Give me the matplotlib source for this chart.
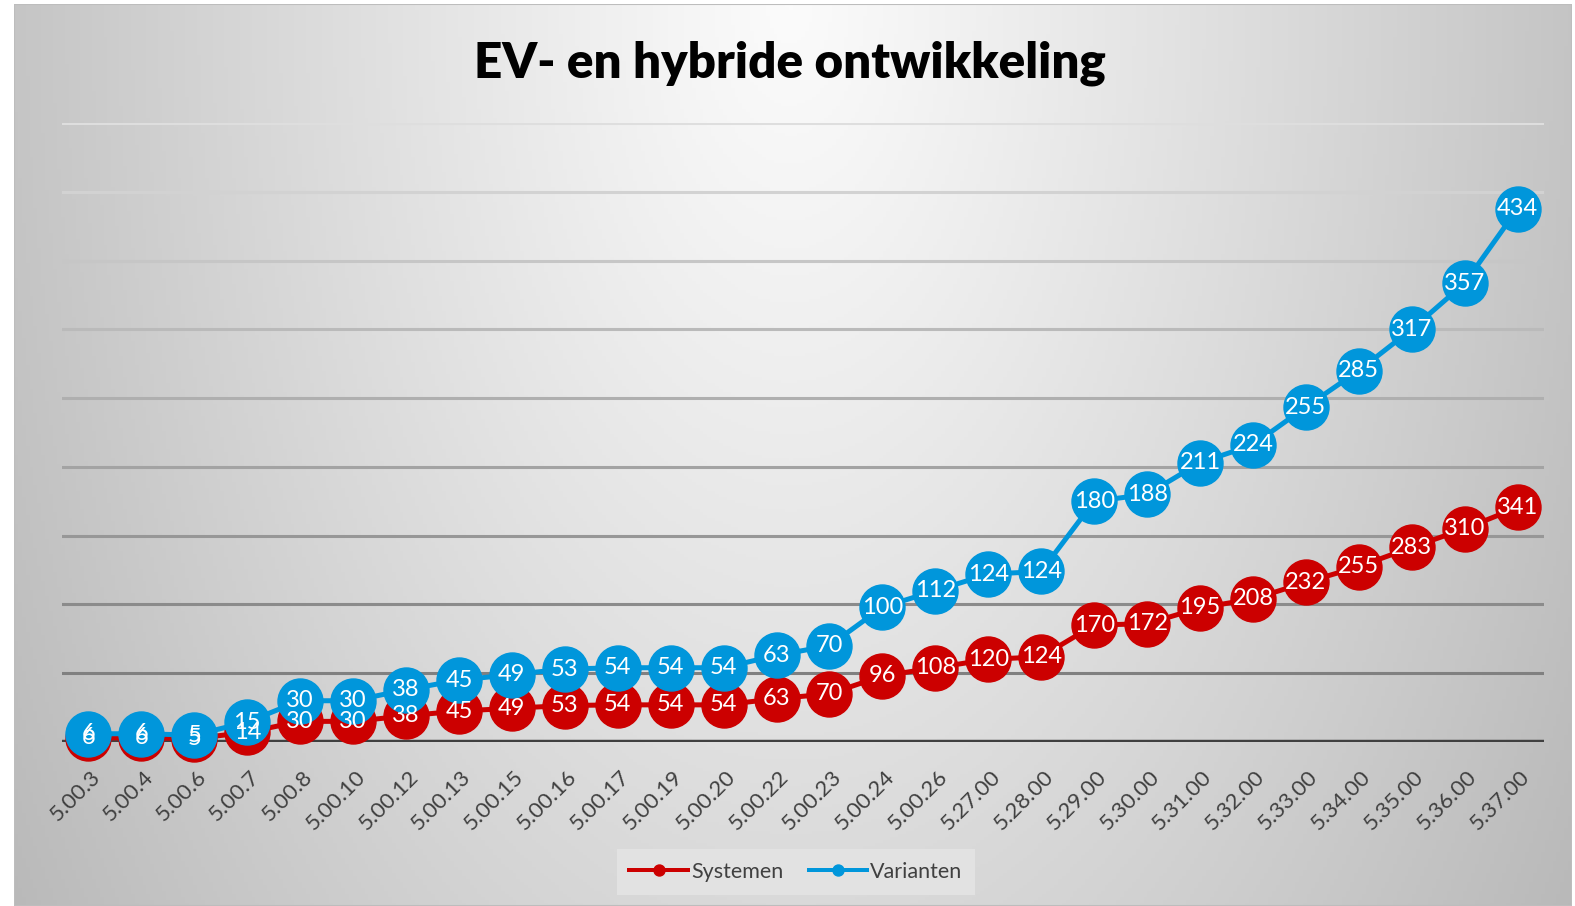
import numpy as np
import matplotlib
matplotlib.use("Agg")
import matplotlib.pyplot as plt
from matplotlib.lines import Line2D
from matplotlib.patches import Rectangle

# ---- data ----
categories = ["5.00.3", "5.00.4", "5.00.6", "5.00.7", "5.00.8", "5.00.10", "5.00.12",
              "5.00.13", "5.00.15", "5.00.16", "5.00.17", "5.00.19", "5.00.20", "5.00.22",
              "5.00.23", "5.00.24", "5.00.26", "5.27.00", "5.28.00", "5.29.00", "5.30.00",
              "5.31.00", "5.32.00", "5.33.00", "5.34.00", "5.35.00", "5.36.00", "5.37.00"]
systemen = [6, 6, 5, 14, 30, 30, 38, 45, 49, 53, 54, 54, 54, 63, 70, 96, 108, 120, 124,
            170, 172, 195, 208, 232, 255, 283, 310, 341]
varianten = [6, 6, 5, 15, 30, 30, 38, 45, 49, 53, 54, 54, 54, 63, 70, 100, 112, 124, 124,
             180, 188, 211, 224, 255, 285, 317, 357, 434]
series_names = ["Systemen", "Varianten"]
y_max = 900
y_step = 100

RED = "#CC0000"
BLUE = "#0096DB"
FONT = "Lato"

W, H = 1575, 906
fig = plt.figure(figsize=(W / 100, H / 100), dpi=100)
fig.patch.set_facecolor("white")

# ---- background gradient (chart area) ----
x0, x1, ytop = 14, 1572, 4
bg = fig.add_axes([x0 / W, 0, (x1 - x0) / W, (H - ytop) / H])
bg.set_axis_off()
gx = np.linspace(x0, x1, 400)
gy = np.linspace(ytop, H, 300)
XX, YY = np.meshgrid(gx, gy)
cx, cy = 790, 0
d = np.sqrt(((XX - cx) / 787.0) ** 2 + ((YY - cy) / 1394.0) ** 2)
val = np.clip(0.985 - 0.215 * d ** 1.1, 0, 1)
img = np.dstack([val, val, val])
bg.imshow(img, aspect="auto", extent=[0, 1, 0, 1], origin="upper")
bg.set_xlim(0, 1)
bg.set_ylim(0, 1)
bg.add_patch(Rectangle((0, 0), 1, 1, transform=bg.transAxes, fill=False,
                       edgecolor="#bdbdbd", lw=1.5))

# ---- main axes ----
L, R, T, B = 62, 1544, 123, 742
ax = fig.add_axes([L / W, (H - B) / H, (R - L) / W, (B - T) / H])
ax.patch.set_alpha(0)
n = len(categories)
x = np.arange(n)
ax.set_xlim(-0.5, n - 0.5)
ax.set_ylim(0, y_max)
for s in ax.spines.values():
    s.set_visible(False)
ax.set_xticks([])
ax.set_yticks([])

levels = np.arange(y_step, y_max + 1, y_step)
for lv in levels:
    t = (lv - y_step) / (y_max - y_step)
    c = 0.50 + t * (0.87 - 0.50)
    ax.axhline(lv, color=(c, c, c), lw=2.2, zorder=1)
ax.axhline(0, color="#404040", lw=3.2, zorder=2)

sys_arr = np.array(systemen)
var_top = sys_arr + np.array(varianten)

ms = 45 * 0.72
lw = 5 * 0.72
ax.plot(x, sys_arr, color=RED, lw=lw, marker="o", ms=ms, mec=RED, mfc=RED, zorder=3,
        clip_on=False)
ax.plot(x, var_top, color=BLUE, lw=lw, marker="o", ms=ms, mec=BLUE, mfc=BLUE, zorder=4,
        clip_on=False)

for i in range(n):
    ax.text(x[i], sys_arr[i], str(systemen[i]), color="white", fontsize=17,
            family=FONT, ha="center", va="center", zorder=6)
    ax.text(x[i], var_top[i], str(varianten[i]), color="white", fontsize=17,
            family=FONT, ha="center", va="center", zorder=7)

for i, lab in enumerate(categories):
    ax.annotate(lab, xy=(x[i], 0), xytext=(9, -32), textcoords="offset pixels",
                rotation=45, rotation_mode="anchor", ha="right", va="center",
                fontsize=16, family=FONT, color="#404040", annotation_clip=False)

# ---- title ----
fig.text(790 / W, 1 - 63 / H, "EV- en hybride ontwikkeling", ha="center", va="center",
         fontsize=35.5, fontweight="heavy", family=FONT, color="black")

# ---- legend ----
handles = [Line2D([], [], color=RED, lw=4 * 0.72, marker="o", ms=11 * 0.72),
           Line2D([], [], color=BLUE, lw=4 * 0.72, marker="o", ms=11 * 0.72)]
leg = fig.legend(handles, series_names, loc="center", bbox_to_anchor=(796 / W, 1 - 872 / H),
                 ncol=2, frameon=True, fancybox=False, handlelength=2.7,
                 handletextpad=0.15, columnspacing=1.2, borderpad=0.6,
                 prop={"family": FONT, "size": 15.5})
leg.get_frame().set_facecolor("#e2e2e2")
leg.get_frame().set_edgecolor("none")
leg.get_frame().set_alpha(1)
for t in leg.get_texts():
    t.set_color("#404040")

fig.savefig("out.png", dpi=100)
